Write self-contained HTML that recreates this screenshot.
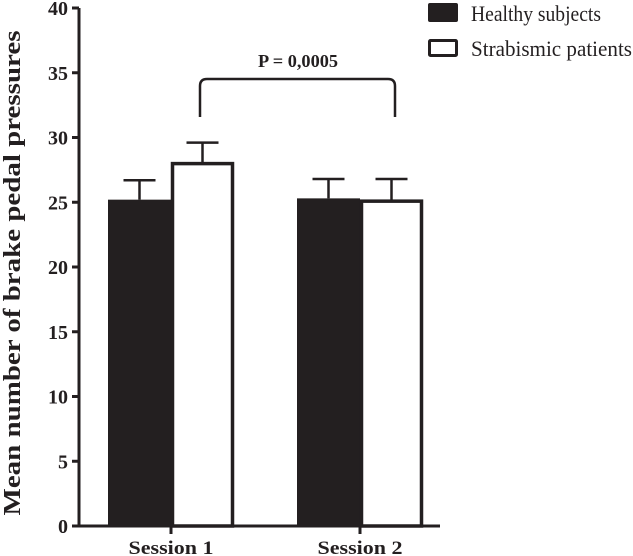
<!DOCTYPE html>
<html><head><meta charset="utf-8"><style>
html,body{margin:0;padding:0;background:#fff;}
svg{display:block;font-family:"Liberation Serif",serif;}
</style></head><body>
<svg id="chart" width="633" height="556" viewBox="0 0 633 556">
<g id="axes"></g><g id="bars"></g>
<g>
<path d="M200 117 V86 Q200 79 207 79 H388 Q395 79 395 86 V117" fill="none" stroke="#231f20" stroke-width="2.5"/>
<text x="298" y="67" text-anchor="middle" font-weight="bold" font-size="18" fill="#231f20" textLength="80" lengthAdjust="spacingAndGlyphs">P = 0,0005</text>
</g>
<g>
<rect x="428" y="3" width="30" height="19" rx="2" fill="#231f20"/>
<text x="471" y="21" font-size="22" fill="#231f20" textLength="130" lengthAdjust="spacingAndGlyphs">Healthy subjects</text>
<rect x="429.5" y="40.5" width="27" height="15" rx="1" fill="#fff" stroke="#231f20" stroke-width="3"/>
<text x="471" y="56" font-size="22" fill="#231f20" textLength="161" lengthAdjust="spacingAndGlyphs">Strabismic patients</text>
</g>
<text transform="translate(20,273) rotate(-90)" text-anchor="middle" font-weight="bold" font-size="24" fill="#231f20" textLength="485" lengthAdjust="spacingAndGlyphs">Mean number of brake pedal pressures</text>
</svg>
<script>
const categories = ["Session 1", "Session 2"];
const healthyValues = [25.2, 25.3];
const healthyErrors = [1.5, 1.5];
const strabismicValues = [28.1, 25.2];
const strabismicErrors = [1.5, 1.6];
const yTicks = [0, 5, 10, 15, 20, 25, 30, 35, 40];

const NS = "http://www.w3.org/2000/svg";
const y0 = 526, pxPerUnit = 12.95, axisX = 79;
const yScale = v => y0 - v * pxPerUnit;
const groupCenter = i => 171 + i * 189;
const barW = 63;
const col = "#231f20";
function mk(tag, attrs, parent) {
  const e = document.createElementNS(NS, tag);
  for (const k in attrs) e.setAttribute(k, attrs[k]);
  parent.appendChild(e);
  return e;
}
const axes = document.getElementById("axes");
const bars = document.getElementById("bars");

yTicks.forEach(t => {
  const y = yScale(t);
  const tk = mk("line", {x1: 72, x2: axisX, y1: y, y2: y, stroke: col, "stroke-width": 3}, axes);
  
  
  const lb = mk("text", {x: 68, y: y + 7, "text-anchor": "end", "font-weight": "bold", "font-size": 20, fill: col}, axes);
  lb.textContent = t;
  
  
});

categories.forEach((c, i) => {
  const cx = groupCenter(i);
  const draw = (val, err, left, filled, name) => {
    const top = yScale(val);
    const r = mk("rect", {x: left + (filled ? 0 : 1.5), y: top + (filled ? 0 : 1.5), width: filled ? barW : barW - 3, height: y0 - top - (filled ? 0 : 1.5), fill: filled ? col : "#fff", stroke: filled ? "none" : col, "stroke-width": filled ? 0 : 3.5}, bars);
    
    
    const mx = left + barW / 2, ey = yScale(val + err);
    const e1 = mk("line", {x1: mx, x2: mx, y1: ey, y2: top, stroke: col, "stroke-width": 2.5}, bars);
    
    
    const e2 = mk("line", {x1: mx - 16, x2: mx + 16, y1: ey, y2: ey, stroke: col, "stroke-width": 2.5}, bars);
    
    
  };
  draw(healthyValues[i], healthyErrors[i], cx - barW, true, 'bar-healthy');
  draw(strabismicValues[i], strabismicErrors[i], cx, false, 'bar-strabismic');
  const tk = mk("line", {x1: cx, x2: cx, y1: y0, y2: 534, stroke: col, "stroke-width": 3}, axes);
  
  
  const lb = mk("text", {x: cx, y: 554, "text-anchor": "middle", "font-weight": "bold", "font-size": 19, fill: col, textLength: 85, lengthAdjust: "spacingAndGlyphs"}, axes);
  lb.textContent = c;
  
  
});

const ya = mk("line", {x1: axisX, x2: axisX, y1: yScale(40), y2: y0 + 1.5, stroke: col, "stroke-width": 3}, axes);


const xa = mk("line", {x1: axisX - 1.5, x2: 440, y1: y0, y2: y0, stroke: col, "stroke-width": 3}, axes);


</script>
</body></html>
